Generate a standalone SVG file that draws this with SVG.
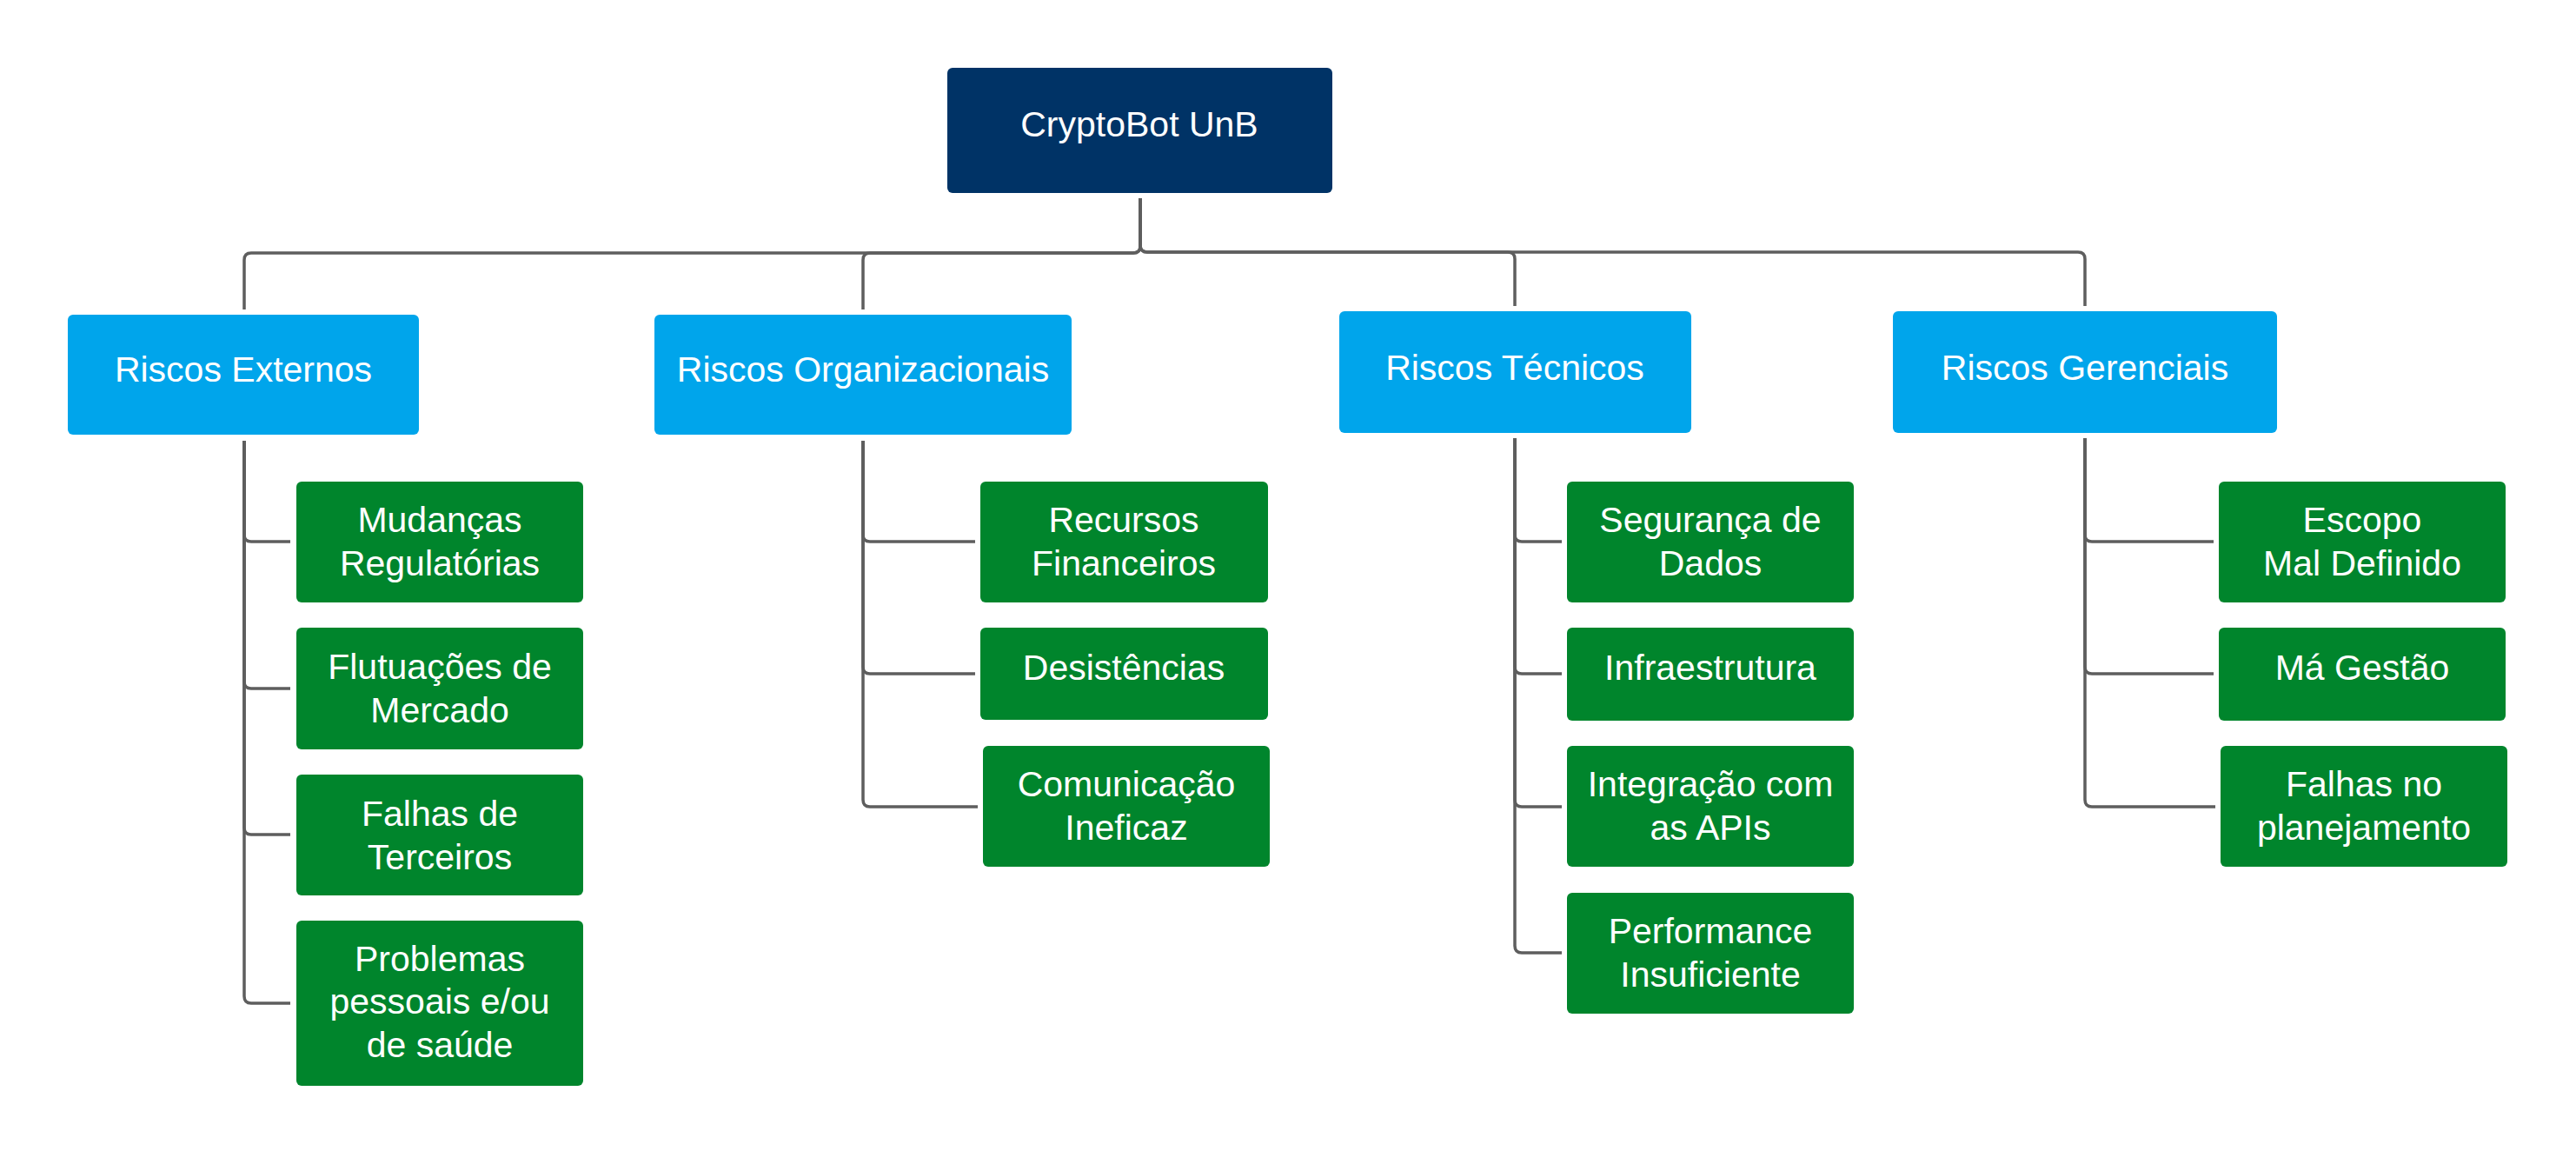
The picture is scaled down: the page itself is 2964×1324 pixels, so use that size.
<svg xmlns="http://www.w3.org/2000/svg" width="2964" height="1324" viewBox="0 0 2964 1324">
<style>
.root{fill:#003366}
.cat{fill:#00a5eb}
.leaf{fill:#00852c}
text{font-family:"Liberation Sans",Arial,sans-serif;font-size:41px;fill:#ffffff;text-anchor:middle}
.conn path{fill:none;stroke:#5e5e5e;stroke-width:3.5;stroke-linecap:butt;stroke-linejoin:round}
</style>
<rect width="2964" height="1324" fill="#ffffff"/>
<g class="conn" id="connectors">
<path d="M1312,228 V283 Q1312,291 1304,291 H289 Q281,291 281,299 V356"/>
<path d="M1312,228 V283 Q1312,291 1304,291 H1001 Q993,291 993,299 V356"/>
<path d="M1312,228 V282 Q1312,290 1320,290 H1735 Q1743,290 1743,298 V352"/>
<path d="M1312,228 V282 Q1312,290 1320,290 H2391 Q2399,290 2399,298 V352"/>
<path d="M281,507 V615 Q281,623 289,623 H334"/>
<path d="M281,507 V784 Q281,792 289,792 H334"/>
<path d="M281,507 V952 Q281,960 289,960 H334"/>
<path d="M281,507 V1146 Q281,1154 289,1154 H334"/>
<path d="M993,507 V615 Q993,623 1001,623 H1122"/>
<path d="M993,507 V767 Q993,775 1001,775 H1122"/>
<path d="M993,507 V920 Q993,928 1001,928 H1125"/>
<path d="M1743,504 V615 Q1743,623 1751,623 H1797"/>
<path d="M1743,504 V767 Q1743,775 1751,775 H1797"/>
<path d="M1743,504 V920 Q1743,928 1751,928 H1797"/>
<path d="M1743,504 V1088 Q1743,1096 1751,1096 H1797"/>
<path d="M2399,504 V615 Q2399,623 2407,623 H2547"/>
<path d="M2399,504 V767 Q2399,775 2407,775 H2547"/>
<path d="M2399,504 V920 Q2399,928 2407,928 H2549"/>
</g>
<g id="root"><rect class="root" x="1090" y="78" width="443" height="144" rx="6"/><text x="1311" y="157">CryptoBot UnB</text></g>
<g id="riscos-externos"><rect class="cat" x="78" y="362" width="404" height="138" rx="6"/><text x="280" y="439">Riscos Externos</text></g>
<g id="riscos-organizacionais"><rect class="cat" x="753" y="362" width="480" height="138" rx="6"/><text x="993" y="439">Riscos Organizacionais</text></g>
<g id="riscos-tecnicos"><rect class="cat" x="1541" y="358" width="405" height="140" rx="6"/><text x="1743" y="437">Riscos Técnicos</text></g>
<g id="riscos-gerenciais"><rect class="cat" x="2178" y="358" width="442" height="140" rx="6"/><text x="2399" y="437">Riscos Gerenciais</text></g>
<g id="mudancas"><rect class="leaf" x="341" y="554" width="330" height="139" rx="6"/><text x="506" y="612">Mudanças</text><text x="506" y="662">Regulatórias</text></g>
<g id="flutuacoes"><rect class="leaf" x="341" y="722" width="330" height="140" rx="6"/><text x="506" y="781">Flutuações de</text><text x="506" y="831">Mercado</text></g>
<g id="falhas-terceiros"><rect class="leaf" x="341" y="891" width="330" height="139" rx="6"/><text x="506" y="950">Falhas de</text><text x="506" y="1000">Terceiros</text></g>
<g id="problemas"><rect class="leaf" x="341" y="1059" width="330" height="190" rx="6"/><text x="506" y="1117">Problemas</text><text x="506" y="1166">pessoais e/ou</text><text x="506" y="1216">de saúde</text></g>
<g id="recursos"><rect class="leaf" x="1128" y="554" width="331" height="139" rx="6"/><text x="1293" y="612">Recursos</text><text x="1293" y="662">Financeiros</text></g>
<g id="desistencias"><rect class="leaf" x="1128" y="722" width="331" height="106" rx="6"/><text x="1293" y="782">Desistências</text></g>
<g id="comunicacao"><rect class="leaf" x="1131" y="858" width="330" height="139" rx="6"/><text x="1296" y="916">Comunicação</text><text x="1296" y="966">Ineficaz</text></g>
<g id="seguranca"><rect class="leaf" x="1803" y="554" width="330" height="139" rx="6"/><text x="1968" y="612">Segurança de</text><text x="1968" y="662">Dados</text></g>
<g id="infraestrutura"><rect class="leaf" x="1803" y="722" width="330" height="107" rx="6"/><text x="1968" y="782">Infraestrutura</text></g>
<g id="integracao"><rect class="leaf" x="1803" y="858" width="330" height="139" rx="6"/><text x="1968" y="916">Integração com</text><text x="1968" y="966">as APIs</text></g>
<g id="performance"><rect class="leaf" x="1803" y="1027" width="330" height="139" rx="6"/><text x="1968" y="1085">Performance</text><text x="1968" y="1135">Insuficiente</text></g>
<g id="escopo"><rect class="leaf" x="2553" y="554" width="330" height="139" rx="6"/><text x="2718" y="612">Escopo</text><text x="2718" y="662">Mal Definido</text></g>
<g id="ma-gestao"><rect class="leaf" x="2553" y="722" width="330" height="107" rx="6"/><text x="2718" y="782">Má Gestão</text></g>
<g id="falhas-planejamento"><rect class="leaf" x="2555" y="858" width="330" height="139" rx="6"/><text x="2720" y="916">Falhas no</text><text x="2720" y="966">planejamento</text></g>
</svg>
